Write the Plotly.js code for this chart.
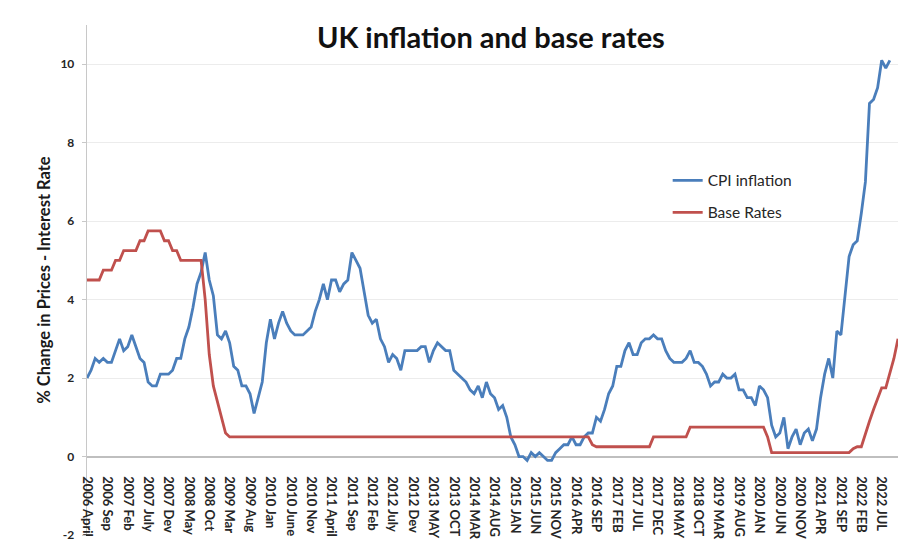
<!DOCTYPE html>
<html>
<head>
<meta charset="utf-8">
<script src="https://cdn.plot.ly/plotly-3.0.1.min.js"></script>
<style>
  html, body { margin: 0; padding: 0; background: #ffffff; }
  #chart { width: 904px; height: 541px; }
</style>
</head>
<body>
<div id="chart"></div>
<script>
// Monthly series, first month = 2006 April
const firstMonthLabel = "2006 April";

// CPI inflation, % (2006 Apr .. 2022 Sep)
const cpiInflation = [
  2.0, 2.2, 2.5, 2.4, 2.5, 2.4, 2.4, 2.7, 3.0,
  2.7, 2.8, 3.1, 2.8, 2.5, 2.4, 1.9, 1.8, 1.8, 2.1, 2.1, 2.1,
  2.2, 2.5, 2.5, 3.0, 3.3, 3.8, 4.4, 4.7, 5.2, 4.5, 4.1, 3.1,
  3.0, 3.2, 2.9, 2.3, 2.2, 1.8, 1.8, 1.6, 1.1, 1.5, 1.9, 2.9,
  3.5, 3.0, 3.4, 3.7, 3.4, 3.2, 3.1, 3.1, 3.1, 3.2, 3.3, 3.7,
  4.0, 4.4, 4.0, 4.5, 4.5, 4.2, 4.4, 4.5, 5.2, 5.0, 4.8, 4.2,
  3.6, 3.4, 3.5, 3.0, 2.8, 2.4, 2.6, 2.5, 2.2, 2.7, 2.7, 2.7,
  2.7, 2.8, 2.8, 2.4, 2.7, 2.9, 2.8, 2.7, 2.7, 2.2, 2.1, 2.0,
  1.9, 1.7, 1.6, 1.8, 1.5, 1.9, 1.6, 1.5, 1.2, 1.3, 1.0, 0.5,
  0.3, 0.0, 0.0, -0.1, 0.1, 0.0, 0.1, 0.0, -0.1, -0.1, 0.1, 0.2,
  0.3, 0.3, 0.5, 0.3, 0.3, 0.5, 0.6, 0.6, 1.0, 0.9, 1.2, 1.6,
  1.8, 2.3, 2.3, 2.7, 2.9, 2.6, 2.6, 2.9, 3.0, 3.0, 3.1, 3.0,
  3.0, 2.7, 2.5, 2.4, 2.4, 2.4, 2.5, 2.7, 2.4, 2.4, 2.3, 2.1,
  1.8, 1.9, 1.9, 2.1, 2.0, 2.0, 2.1, 1.7, 1.7, 1.5, 1.5, 1.3,
  1.8, 1.7, 1.5, 0.8, 0.5, 0.6, 1.0, 0.2, 0.5, 0.7, 0.3, 0.6,
  0.7, 0.4, 0.7, 1.5, 2.1, 2.5, 2.0, 3.2, 3.1, 4.2, 5.1, 5.4,
  5.5, 6.2, 7.0, 9.0, 9.1, 9.4, 10.1, 9.9, 10.1
];

// Bank of England base rate, % (2006 Apr .. 2022 Nov)
const baseRates = [
  4.5, 4.5, 4.5, 4.5, 4.75, 4.75, 4.75, 5.0, 5.0,
  5.25, 5.25, 5.25, 5.25, 5.5, 5.5, 5.75, 5.75, 5.75, 5.75, 5.5, 5.5,
  5.25, 5.25, 5.0, 5.0, 5.0, 5.0, 5.0, 5.0, 4.0, 2.6, 1.8, 1.4,
  1.0, 0.6, 0.5, 0.5, 0.5, 0.5, 0.5, 0.5, 0.5, 0.5, 0.5, 0.5,
  0.5, 0.5, 0.5, 0.5, 0.5, 0.5, 0.5, 0.5, 0.5, 0.5, 0.5, 0.5,
  0.5, 0.5, 0.5, 0.5, 0.5, 0.5, 0.5, 0.5, 0.5, 0.5, 0.5, 0.5,
  0.5, 0.5, 0.5, 0.5, 0.5, 0.5, 0.5, 0.5, 0.5, 0.5, 0.5, 0.5,
  0.5, 0.5, 0.5, 0.5, 0.5, 0.5, 0.5, 0.5, 0.5, 0.5, 0.5, 0.5,
  0.5, 0.5, 0.5, 0.5, 0.5, 0.5, 0.5, 0.5, 0.5, 0.5, 0.5, 0.5,
  0.5, 0.5, 0.5, 0.5, 0.5, 0.5, 0.5, 0.5, 0.5, 0.5, 0.5, 0.5,
  0.5, 0.5, 0.5, 0.5, 0.5, 0.5, 0.5, 0.3, 0.25, 0.25, 0.25, 0.25,
  0.25, 0.25, 0.25, 0.25, 0.25, 0.25, 0.25, 0.25, 0.25, 0.25, 0.5, 0.5,
  0.5, 0.5, 0.5, 0.5, 0.5, 0.5, 0.5, 0.75, 0.75, 0.75, 0.75, 0.75,
  0.75, 0.75, 0.75, 0.75, 0.75, 0.75, 0.75, 0.75, 0.75, 0.75, 0.75, 0.75,
  0.75, 0.75, 0.5, 0.1, 0.1, 0.1, 0.1, 0.1, 0.1, 0.1, 0.1, 0.1,
  0.1, 0.1, 0.1, 0.1, 0.1, 0.1, 0.1, 0.1, 0.1, 0.1, 0.1, 0.2,
  0.25, 0.25, 0.6, 0.9, 1.2, 1.5, 1.75, 1.75, 2.1, 2.5, 3.0
];

// Category tick labels, one every 5 months
const tickLabels = [
  "2006 April", "2006 Sep", "2007 Feb", "2007 July", "2007 Dev",
  "2008 May", "2008 Oct", "2009 Mar", "2009 Aug", "2010 Jan",
  "2010 June", "2010 Nov", "2011 April", "2011 Sep", "2012 Feb",
  "2012 July", "2012 Dev", "2013 MAY", "2013 OCT", "2014 MAR",
  "2014 AUG", "2015 JAN", "2015 JUN", "2015 NOV", "2016 APR",
  "2016 SEP", "2017 FEB", "2017 JUL", "2017 DEC", "2018 MAY",
  "2018 OCT", "2019 MAR", "2019 AUG", "2020 JAN", "2020 JUN",
  "2020 NOV", "2021 APR", "2021 SEP", "2022 FEB", "2022 JUL"
];
const tickStepMonths = 5;

// Y-axis ticks
const yTickVals = [-2, 0, 2, 4, 6, 8, 10];
const yTickText = ["-2", "0", "2", "4", "6", "8", "10"];

const seriesNames = ["CPI inflation", "Base Rates"];
const seriesColors = ["#4a7ebb", "#c0504d"];

const yMin = -2, yMax = 11;

const monthIndex = n => Array.from({length: n}, (_, i) => i);
const tickVals = tickLabels.map((_, k) => k * tickStepMonths);
const nMonths = Math.max(cpiInflation.length, baseRates.length);

const traces = [cpiInflation, baseRates].map((vals, s) => ({
  type: "scatter",
  mode: "lines",
  name: seriesNames[s],
  legendgroup: "g" + s,
  x: monthIndex(vals.length),
  y: vals,
  line: {color: seriesColors[s], width: 2.8},
  hoverinfo: "x+y+name"
}));

const FONT = "Lato, 'Open Sans', 'DejaVu Sans', sans-serif";

const layout = {
  width: 904,
  height: 541,
  margin: {l: 87, r: 6, t: 25, b: 6, pad: 0},
  paper_bgcolor: "#ffffff",
  plot_bgcolor: "#ffffff",
  font: {family: FONT, color: "#262626"},
  title: {
    text: "<b>UK inflation and base rates</b>",
    font: {family: FONT, size: 29, color: "#111111"},
    xref: "container", x: 0.543, xanchor: "center",
    yref: "container", y: 0.93, yanchor: "middle"
  },
  showlegend: true,
  legend: {
    x: 0.716, xanchor: "left",
    y: 0.728, yanchor: "top",
    bgcolor: "rgba(0,0,0,0)",
    font: {family: FONT, size: 15.5, color: "#262626"},
    traceorder: "grouped",
    tracegroupgap: 9,
    itemwidth: 30
  },
  xaxis: {
    type: "linear",
    range: [0, nMonths - 1],
    anchor: "free",
    position: (0 - yMin) / (yMax - yMin),
    showline: true,
    linecolor: "#bfbfbf",
    linewidth: 2,
    showgrid: false,
    zeroline: false,
    ticks: "",
    tickmode: "array",
    tickvals: tickVals,
    ticktext: tickLabels,
    tickangle: 90,
    ticklabelstandoff: 16,
    ticklabeloverflow: "allow",
    tickfont: {family: FONT, size: 13, color: "#262626", weight: "bold"},
    layer: "below traces",
    automargin: false,
    fixedrange: true
  },
  yaxis: {
    range: [yMin, yMax],
    tickmode: "array",
    tickvals: yTickVals,
    ticktext: yTickText,
    showline: true,
    linecolor: "#c8c8c8",
    linewidth: 1.3,
    ticks: "outside",
    ticklen: 4,
    tickcolor: "#c8c8c8",
    ticklabelstandoff: 5,
    ticklabeloverflow: "allow",
    showgrid: true,
    gridcolor: "#ececec",
    gridwidth: 1,
    zeroline: false,
    tickfont: {family: FONT, size: 12, color: "#262626", weight: "bold"},
    title: {
      text: "<b>% Change in Prices - Interest Rate</b>",
      font: {family: FONT, size: 16.5, color: "#1a1a1a"},
      standoff: 5
    },
    automargin: false,
    layer: "below traces",
    fixedrange: true
  }
};

Plotly.newPlot("chart", traces, layout, {displayModeBar: false, staticPlot: true});
</script>
</body>
</html>
